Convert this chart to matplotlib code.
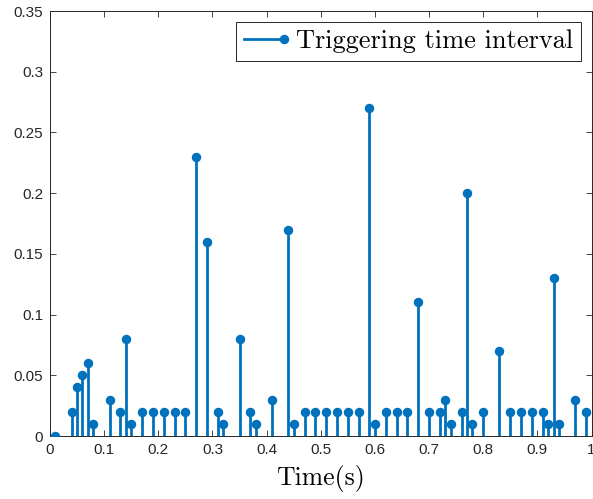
import matplotlib
matplotlib.use("Agg")
import matplotlib.pyplot as plt
from matplotlib.lines import Line2D
from matplotlib.legend_handler import HandlerBase

times = [0.01, 0.04, 0.05, 0.06, 0.07, 0.08, 0.11, 0.13, 0.14, 0.15,
         0.17, 0.19, 0.21, 0.23, 0.25, 0.27, 0.29, 0.31, 0.32, 0.35,
         0.37, 0.38, 0.41, 0.44, 0.45, 0.47, 0.49, 0.51, 0.53, 0.55,
         0.57, 0.59, 0.60, 0.62, 0.64, 0.66, 0.68, 0.70, 0.72, 0.73,
         0.74, 0.76, 0.77, 0.78, 0.80, 0.83, 0.85, 0.87, 0.89, 0.91,
         0.92, 0.93, 0.94, 0.97, 0.99]
intervals = [0.00, 0.02, 0.04, 0.05, 0.06, 0.01, 0.03, 0.02, 0.08, 0.01,
             0.02, 0.02, 0.02, 0.02, 0.02, 0.23, 0.16, 0.02, 0.01, 0.08,
             0.02, 0.01, 0.03, 0.17, 0.01, 0.02, 0.02, 0.02, 0.02, 0.02,
             0.02, 0.27, 0.01, 0.02, 0.02, 0.02, 0.11, 0.02, 0.02, 0.03,
             0.01, 0.02, 0.20, 0.01, 0.02, 0.07, 0.02, 0.02, 0.02, 0.02,
             0.01, 0.13, 0.01, 0.03, 0.02]
xticks = [0, 0.1, 0.2, 0.3, 0.4, 0.5, 0.6, 0.7, 0.8, 0.9, 1]
xticklabels = ["0", "0.1", "0.2", "0.3", "0.4", "0.5", "0.6", "0.7", "0.8", "0.9", "1"]
yticks = [0, 0.05, 0.1, 0.15, 0.2, 0.25, 0.3, 0.35]
yticklabels = ["0", "0.05", "0.1", "0.15", "0.2", "0.25", "0.3", "0.35"]
legend_label = "Triggering time interval"
xlabel = "Time(s)"

COLOR = "#0072BD"
AXC = "#262626"

plt.rcParams["font.family"] = ["Liberation Sans", "DejaVu Sans"]

fig = plt.figure(figsize=(5.93, 4.99), dpi=100)
ax = fig.add_axes([50/593, 1-436/499, 541.5/593, 425/499])

ax.vlines(times, 0, intervals, color=COLOR, lw=2.0, zorder=3)
ax.plot(times, intervals, 'o', color=COLOR, ms=5.8, zorder=4)

ax.set_xlim(0, 1)
ax.set_ylim(0, 0.35)
ax.set_xticks(xticks)
ax.set_xticklabels(xticklabels)
ax.set_yticks(yticks)
ax.set_yticklabels(yticklabels)
ax.tick_params(direction='in', top=True, right=True, length=4, width=0.6,
               colors=AXC, labelsize=11, pad=5)
for s in ax.spines.values():
    s.set_color(AXC)
    s.set_linewidth(0.7)
ax.set_xlabel(xlabel, family='cmr10', fontsize=18.5, color='black', labelpad=6)


class StemLegendHandler(HandlerBase):
    def create_artists(self, legend, orig_handle, xdescent, ydescent, width,
                       height, fontsize, trans):
        y = height / 2 - ydescent
        line = Line2D([-xdescent, width - xdescent], [y, y], color=COLOR, lw=2.0)
        mk = Line2D([width - xdescent], [y], marker='o', color=COLOR, ms=5.8,
                    linestyle='none')
        line.set_transform(trans)
        mk.set_transform(trans)
        return [line, mk]


proxy = Line2D([], [], color=COLOR)
leg = ax.legend([proxy], [legend_label], handler_map={Line2D: StemLegendHandler()},
                loc='upper right', prop={'family': 'cmr10', 'size': 19},
                fancybox=False, framealpha=1, edgecolor=AXC, handlelength=1.5,
                borderpad=0.3, handletextpad=0.45, borderaxespad=0.4)
leg.get_frame().set_linewidth(0.7)

fig.savefig("out.png", dpi=100)
